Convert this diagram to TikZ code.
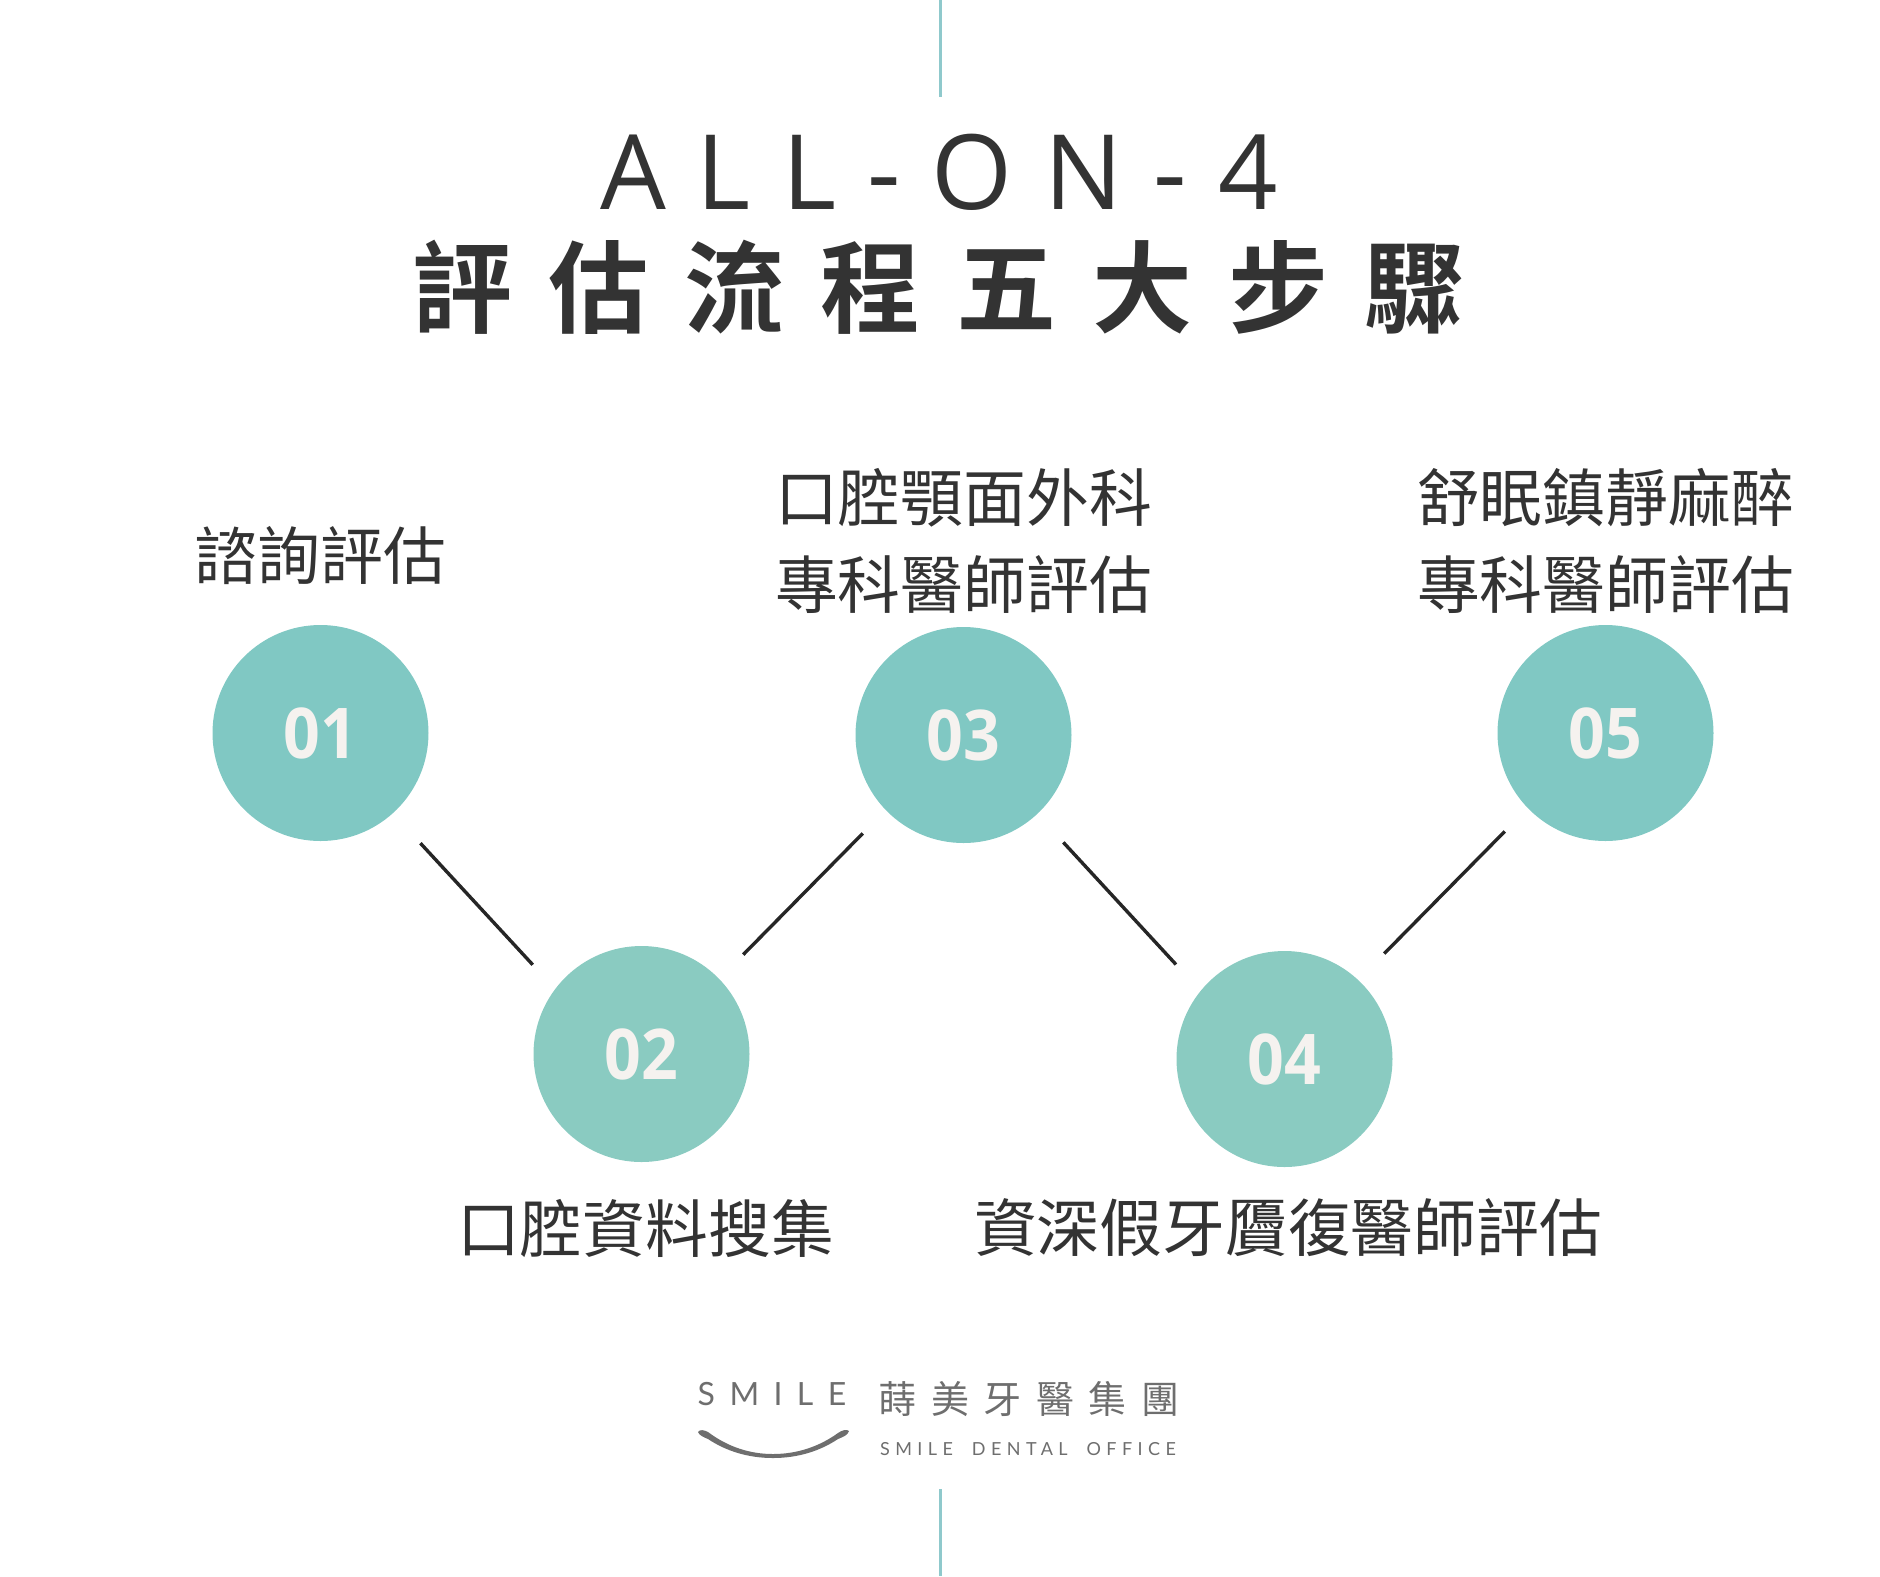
\documentclass[tikz,border=0pt]{standalone}
\usepackage{fontspec}
\usepackage{tikz}
\usetikzlibrary{positioning}
\setmainfont{Noto Sans CJK TC}
\newfontfamily\titlelatin[LetterSpace=30]{Open Sans}
\newfontfamily\titlecjk[LetterSpace=36,BoldFont={Noto Sans CJK TC Bold}]{Noto Sans CJK TC}
\newfontfamily\numfont[FakeStretch=0.92]{Open Sans}
\newfontfamily\logolatin[LetterSpace=45]{Lato}
\newfontfamily\logosmall[LetterSpace=30,WordSpace=1.9]{Lato}
\newfontfamily\logocjk[LetterSpace=38]{Noto Sans CJK TC}
\definecolor{tealdark}{HTML}{80C8C3}
\definecolor{teallight}{HTML}{8ACBC1}
\definecolor{tealrule}{HTML}{8FC9CC}
\definecolor{inkdark}{HTML}{333333}
\definecolor{linkdark}{HTML}{262626}
\definecolor{logogray}{HTML}{6E6E6E}
\definecolor{numwhite}{HTML}{F5F2EF}

\begin{document}
\begin{tikzpicture}[x=0.5pt,y=-0.5pt,on grid,
    stepdot/.style={circle,minimum size=108pt,inner sep=0pt,text=numwhite,font=\numfont\fontsize{35}{35}\selectfont\bfseries},
    steplabel/.style={align=center,inner sep=0pt,text=inkdark,font=\fontsize{31.4}{43.8}\selectfont},
    link/.style={draw=linkdark,line width=1.7pt},
    edgerule/.style={draw=tealrule,line width=1.5pt}]
  \useasboundingbox (0,0) rectangle (1880,1576);

  % rules at top and bottom
  \coordinate (topa) at (940,0);
  \coordinate (topb) at (940,97);
  \coordinate (bota) at (940,1489);
  \coordinate (botb) at (940,1576);
  \draw[edgerule] (topa) -- (topb);
  \draw[edgerule] (bota) -- (botb);

  % title
  \node[inner sep=0pt,text=inkdark,font=\titlelatin\fontsize{52}{52}\selectfont] (title) at (939,172) {ALL-ON-4};
  \node[inner sep=0pt,text=inkdark,font=\titlecjk\fontsize{50}{50}\selectfont\bfseries] (subtitle) at (938,287) {評估流程五大步驟};

  % steps
  \node[stepdot,fill=tealdark] (c1) at (320.5,733) {01};
  \node[stepdot,fill=teallight] (c2) [below right=160.5pt and 160.5pt of c1] {02};
  \node[stepdot,fill=tealdark] (c3) [above right=159.5pt and 161pt of c2] {03};
  \node[stepdot,fill=teallight] (c4) [below right=162pt and 160.5pt of c3] {04};
  \node[stepdot,fill=tealdark] (c5) [above right=163pt and 160.5pt of c4] {05};

  % labels
  \node[steplabel] (l1) [above=89pt of c1] {諮詢評估};
  \node[steplabel] (l2) [below=87pt of c2,xshift=2pt] {口腔資料搜集};
  \node[steplabel] (l3) [above=97pt of c3] {口腔顎面外科\\專科醫師評估};
  \node[steplabel] (l4) [below=84.5pt of c4,xshift=1.8pt] {資深假牙贗復醫師評估};
  \node[steplabel] (l5) [above=96pt of c5] {舒眠鎮靜麻醉\\專科醫師評估};

  \draw[link,shorten <=20.15pt,shorten >=16.35pt] (c1.-48.1) -- (c2.143);
  \draw[link,shorten <=16.9pt,shorten >=16.2pt] (c2.44.8) -- (c3.224);
  \draw[link,shorten <=19.1pt,shorten >=17.9pt] (c3.-47.9) -- (c4.141.1);
  \draw[link,shorten <=18.35pt,shorten >=16.2pt] (c4.47.1) -- (c5.224.8);

  % logo
  \node[inner sep=0pt,text=logogray,font=\logolatin\fontsize{16}{16}\selectfont] (smile) at (772,1394) {SMILE};
  \node[inner sep=0pt,text=logogray,font=\logocjk\fontsize{19}{19}\selectfont] (brand) at (1029,1399) {蒔美牙醫集團};
  \node[inner sep=0pt,text=logogray,font=\logosmall\fontsize{9}{9}\selectfont] (office) at (1028,1449) {SMILE DENTAL OFFICE};
  \fill[logogray] (698,1432) .. controls (700,1429) and (704,1430) .. (708,1432)
    .. controls (728,1447) and (750,1454) .. (773,1454)
    .. controls (798,1454) and (820,1446) .. (838,1433)
    .. controls (842,1430) and (847,1429) .. (849,1431)
    .. controls (848,1435) and (843,1437) .. (838,1439)
    .. controls (820,1451) and (798,1458) .. (773,1458)
    .. controls (748,1458) and (726,1451) .. (708,1439)
    .. controls (703,1437) and (699,1435) .. (698,1432) -- cycle;
\end{tikzpicture}
\end{document}
